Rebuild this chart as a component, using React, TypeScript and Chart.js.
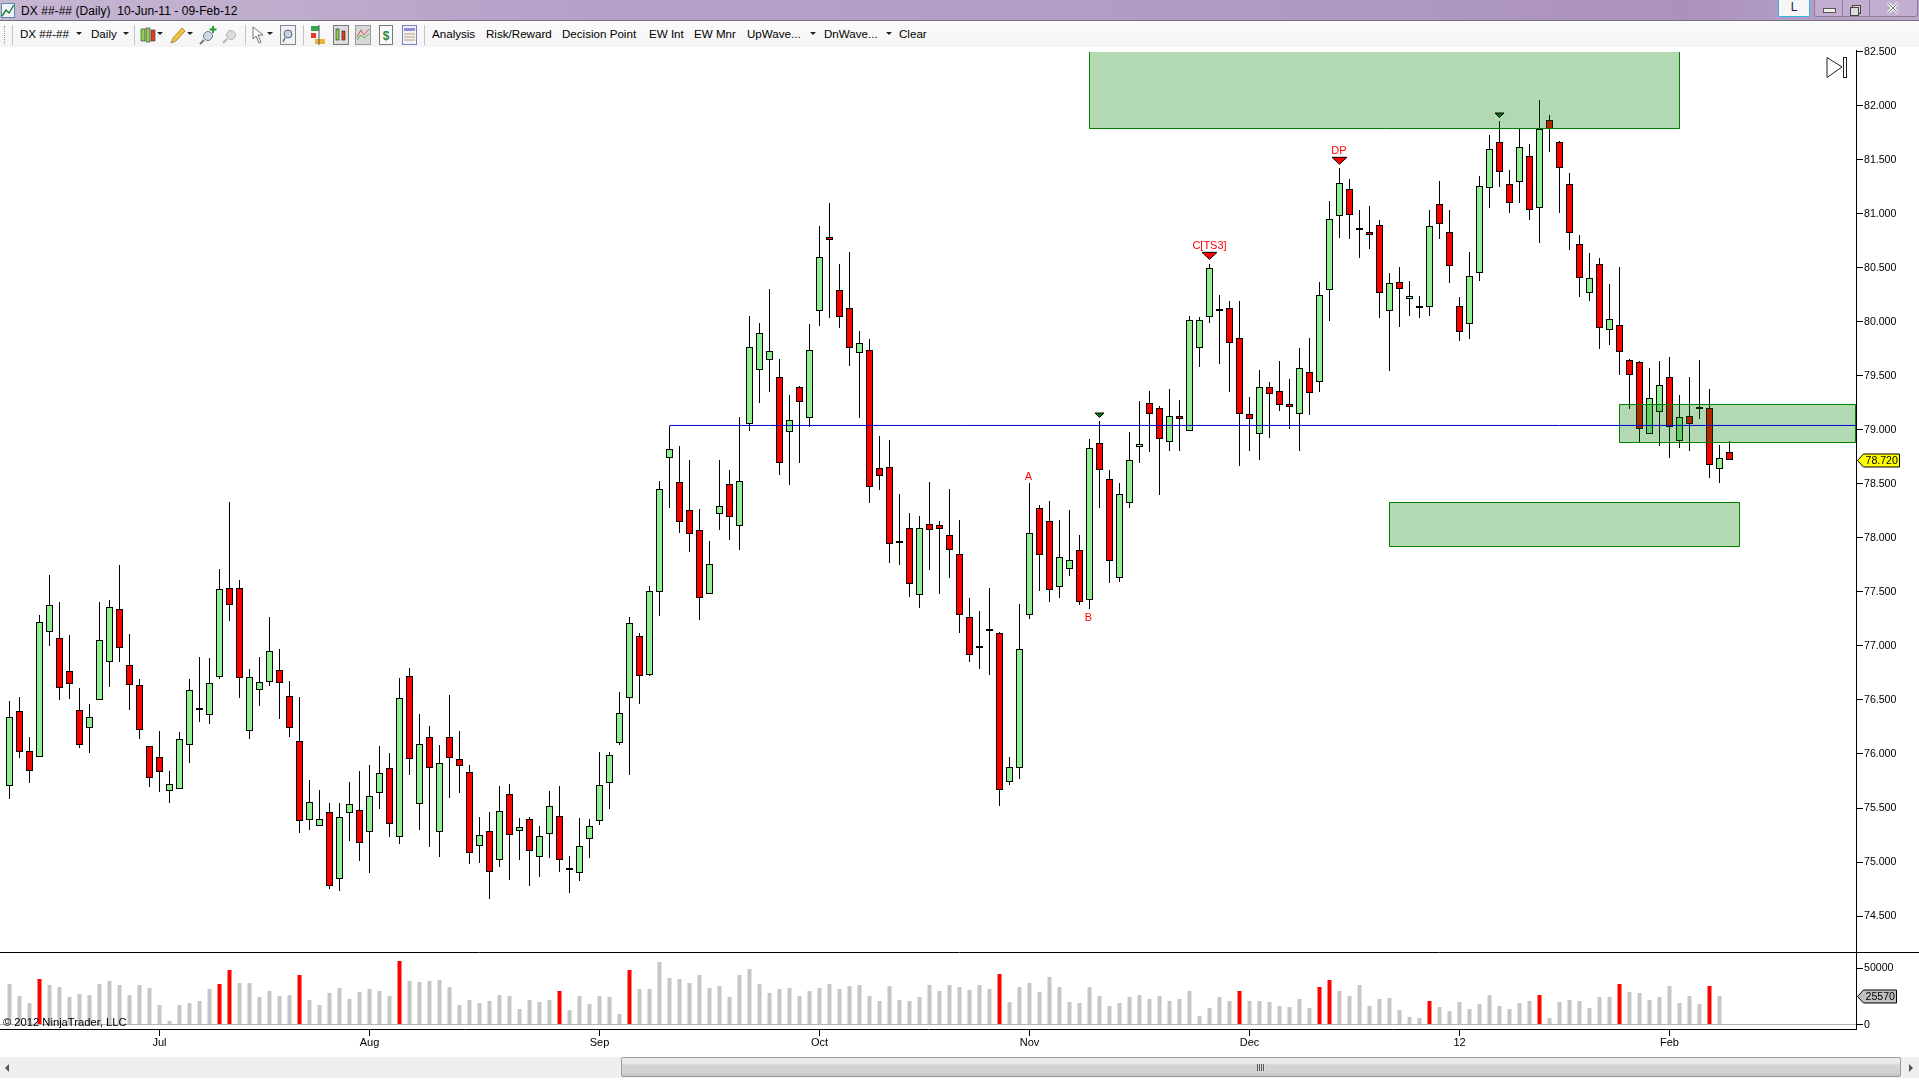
import React, { useEffect, useRef } from "react";
import { Chart, registerables } from "chart.js";

Chart.register(...registerables);

const opens = [
  75.7,76.4,76.03,75.97,77.13,77.07,76.77,76.41,76.24,76.5,
  76.85,77.34,76.82,76.64,76.07,75.97,75.66,75.68,76.08,76.41,
  76.36,76.71,77.54,77.54,76.21,76.59,76.67,76.78,76.54,76.12,
  75.39,75.33,75.46,74.84,75.45,75.48,75.28,75.64,75.87,75.23,
  76.72,75.54,76.16,75.28,76.16,75.95,75.83,75.15,75.29,75.02,
  75.63,75.29,75.4,75.05,75.26,75.43,74.93,74.9,75.21,75.38,
  75.73,76.1,76.52,77.09,76.73,77.5,78.74,78.52,78.26,78.07,
  77.48,78.22,78.5,78.11,79.06,79.56,79.65,79.49,78.98,79.4,
  79.11,80.1,80.79,80.3,80.13,79.71,79.74,78.65,78.66,77.97,
  78.09,77.47,78.13,78.12,78.03,77.85,77.27,77.0,77.14,77.12,
  75.74,75.87,77.29,78.28,78.16,77.55,77.71,77.89,77.43,78.88,
  78.55,77.63,78.32,78.84,79.25,79.2,78.89,79.13,78.99,79.76,
  80.05,80.12,80.13,79.85,79.15,78.96,79.4,79.36,79.24,79.15,
  79.54,79.44,80.3,80.98,81.23,80.85,80.83,80.9,80.1,80.37,
  80.21,80.15,80.14,81.09,80.83,80.15,79.98,80.45,81.24,81.67,
  81.28,81.3,81.54,81.06,81.87,81.67,81.28,80.72,80.27,80.54,
  79.93,79.97,79.65,79.63,78.96,79.17,79.49,78.9,79.13,79.19,
  79.2,78.64,78.8,
];
const highs = [
  76.49,76.53,76.16,77.29,77.66,77.41,77.1,76.61,76.46,77.41,
  77.43,77.75,77.11,76.69,76.07,76.21,75.84,76.2,76.69,76.9,
  76.89,77.71,78.33,77.61,76.79,76.9,77.27,76.97,76.68,76.53,
  75.76,75.67,75.55,75.55,75.74,75.84,75.9,76.07,76.01,76.7,
  76.8,76.37,76.26,76.08,76.55,76.21,75.9,75.42,75.46,75.7,
  75.72,75.41,75.42,75.33,75.66,75.7,75.06,75.41,75.4,76.02,
  76.02,76.57,77.27,77.12,77.56,78.53,79.04,78.85,78.72,78.27,
  77.97,78.72,78.63,79.12,80.06,79.99,80.31,79.66,79.32,79.41,
  79.98,80.89,81.1,80.54,80.65,79.92,79.84,78.94,78.91,78.41,
  78.23,78.2,78.52,78.16,78.45,78.17,77.44,77.32,77.54,77.13,
  75.97,77.39,78.51,78.31,78.34,78.17,78.26,78.03,78.92,79.08,
  78.63,78.51,78.98,79.27,79.36,79.22,79.38,79.28,80.06,80.05,
  80.54,80.25,80.19,80.19,79.31,79.56,79.44,79.64,79.47,79.76,
  79.85,80.37,81.12,81.43,81.32,81.04,81.07,80.94,80.45,80.51,
  80.38,80.24,81.04,81.31,81.04,80.23,80.65,81.35,81.73,81.86,
  81.41,81.79,81.65,82.06,81.92,81.68,81.38,80.81,80.64,80.59,
  80.35,80.51,79.66,79.64,79.57,79.64,79.68,79.32,79.49,79.65,
  79.38,78.86,78.9,
];
const lows = [
  75.58,75.96,75.73,75.97,77.0,76.5,76.51,76.06,76.01,76.5,
  76.62,76.85,76.41,76.14,75.69,75.65,75.55,75.68,75.92,76.3,
  76.28,76.69,77.23,76.52,76.14,76.44,76.63,76.32,76.16,75.27,
  75.3,75.33,74.75,74.73,75.19,75.01,74.9,75.49,75.23,75.17,
  75.81,75.3,75.14,75.05,75.59,75.64,74.98,74.99,74.66,74.95,
  74.83,75.02,74.78,74.86,75.04,74.91,74.71,74.82,75.04,75.34,
  75.49,76.08,75.81,76.46,76.72,77.28,78.28,78.05,77.87,77.24,
  77.48,78.07,77.98,77.89,78.99,79.25,79.35,78.58,78.49,78.69,
  79.03,79.96,80.04,79.94,79.59,79.11,78.32,78.44,77.77,77.75,
  77.45,77.35,77.7,77.48,77.63,77.12,76.85,76.79,76.73,75.52,
  75.71,75.77,77.25,77.51,77.41,77.44,77.65,77.38,77.34,78.28,
  77.58,77.59,78.28,78.69,78.8,78.4,78.81,78.81,78.99,79.58,
  79.99,79.61,79.35,78.67,78.81,78.72,78.93,79.18,79.01,78.81,
  79.14,79.35,80.01,80.78,80.77,80.59,80.68,80.04,79.55,79.95,
  80.06,80.04,80.06,80.77,80.36,79.82,79.84,80.38,81.06,81.25,
  81.01,81.1,80.94,80.73,81.57,81.01,80.67,80.23,80.19,79.75,
  79.79,79.51,79.19,78.89,78.96,78.85,78.74,78.83,78.81,79.1,
  78.56,78.51,78.72,
];
const closes = [
  76.34,76.02,75.84,77.22,77.38,76.61,76.65,76.08,76.34,77.06,
  77.36,76.98,76.64,76.22,75.78,75.83,75.72,76.14,76.59,76.41,
  76.66,77.53,77.38,76.7,76.71,76.67,76.95,76.66,76.24,75.38,
  75.56,75.4,74.78,75.42,75.54,75.18,75.61,75.82,75.35,76.52,
  75.95,76.09,75.87,75.92,75.96,75.89,75.08,75.25,74.91,75.47,
  75.25,75.32,75.1,75.24,75.52,75.02,74.93,75.15,75.33,75.71,
  75.99,76.38,77.21,76.72,77.51,78.45,78.82,78.15,78.04,77.44,
  77.76,78.3,78.19,78.53,79.77,79.9,79.73,78.69,79.09,79.26,
  79.74,80.6,80.76,80.05,79.76,79.81,78.47,78.57,77.94,77.95,
  77.57,78.09,78.07,78.08,77.89,77.29,76.92,76.98,77.14,75.67,
  75.88,76.97,78.05,77.84,77.52,77.82,77.8,77.41,78.83,78.63,
  77.79,78.41,78.72,78.87,79.15,78.92,79.13,79.1,80.02,80.02,
  80.5,80.1,79.81,79.15,79.1,79.4,79.33,79.23,79.21,79.57,
  79.34,80.25,80.95,81.29,80.99,80.85,80.81,80.27,80.36,80.31,
  80.24,80.13,80.89,80.91,80.52,79.91,80.43,81.26,81.6,81.39,
  81.1,81.62,81.04,81.79,81.79,81.43,80.82,80.41,80.41,79.94,
  80.03,79.72,79.51,79.01,79.3,79.42,79.03,79.12,79.06,79.19,
  78.68,78.74,78.72,
];
const volumes = [
  36300,25600,19300,40800,35400,33600,24700,27400,26500,36300,
  39000,35400,26500,35400,32700,17600,3300,17600,19300,21100,
  31800,36300,48800,37200,37200,24700,30100,25600,26500,44300,
  22000,17600,28300,32700,22900,29200,31800,30100,25600,56800,
  39000,38100,39000,39900,33600,17600,22000,19300,21100,26500,
  25600,14000,22000,20200,22000,30100,13100,25600,18500,25600,
  24700,9500,48800,31800,31800,55900,41700,40800,37200,44300,
  32700,34500,24700,44300,49700,36300,28300,31800,32700,25600,
  30100,32700,36300,31800,34500,35400,25600,21100,34500,22000,
  21100,24700,35400,30100,35400,33600,31000,35400,31800,45200,
  20200,33600,37200,29200,42600,33600,20200,19300,33600,25600,
  16700,19300,24700,26500,22900,25600,21100,22900,30100,7700,
  14900,24700,21100,30100,21100,21100,20200,16700,15800,22900,
  14900,33600,39900,30100,25600,35400,16700,22900,23800,13100,
  6800,6000,21100,15800,12200,20200,14000,18500,26500,16700,
  14000,19300,21100,26500,6000,20200,22000,21100,14900,24700,
  24700,36300,29200,28300,22000,24700,34500,19300,25600,18500,
  34500,25570,
];
const highVolumeBars = [3,21,22,29,39,55,62,99,123,131,132,142,153,161,170];

const priceTicks = [82.5,82,81.5,81,80.5,80,79.5,79,78.5,78,77.5,77,76.5,76,75.5,75,74.5];
const volumeTicks = [50000,0];
const monthTicks = [15,36,59,81,102,124,145,166];
const monthLabels = ["Jul","Aug","Sep","Oct","Nov","Dec","12","Feb"];

const levelStart = 66;
const levelPrice = 79.042;

const zoneStarts = [107.95,160.95,137.95];
const zoneEnds = [167.05,184.65,173];
const zoneHighs = [82.5,79.24,78.33];
const zoneLows = [81.79,78.88,77.92];
const zoneOpenTop = [true,false,false];

const annotationTexts = ["A","B","C[TS3]","DP"];
const annotationBars = [101.9,107.9,120,132.95];
const annotationPrices = [78.564,77.256,80.703,81.583];

const triangleBars = [120,133,109,149];
const trianglePrices = [80.645,81.525,79.157,81.935];
const triangleColors = ["#ff0000","#ff0000","#008000","#008000"];
const triangleWidths = [15,15,9,9];
const triangleHeights = [7,7,4.5,4.5];

const FONT = "'Liberation Sans', Arial, sans-serif";

const snapBars = {
  id: "snapBars",
  beforeDatasetsDraw(chart: any) {
    chart.getSortedVisibleDatasetMetas().forEach((meta: any) => {
      if (meta.type !== "bar") return;
      meta.data.forEach((el: any) => {
        el.y = Math.round(el.y);
        el.base = Math.round(el.base);
      });
    });
  },
};

const zonesPlugin = {
  id: "zones",
  beforeDatasetDraw(chart: any, args: any) {
    if (chart.data.datasets[args.index].label !== "level") return;
    const { x, y } = chart.scales;
    const ctx = chart.ctx;
    ctx.save();
    zoneStarts.forEach((start, i) => {
      const l = Math.round(x.getPixelForValue(start));
      const r = Math.round(x.getPixelForValue(zoneEnds[i]));
      const t = Math.round(y.getPixelForValue(zoneHighs[i]));
      const b = Math.round(y.getPixelForValue(zoneLows[i]));
      ctx.fillStyle = "rgba(0,128,0,0.3)";
      ctx.fillRect(l, t, r - l, b - t);
      ctx.strokeStyle = "#008000";
      ctx.lineWidth = 1;
      ctx.beginPath();
      if (zoneOpenTop[i]) {
        ctx.moveTo(l + 0.5, t);
        ctx.lineTo(l + 0.5, b - 0.5);
        ctx.lineTo(r - 0.5, b - 0.5);
        ctx.lineTo(r - 0.5, t);
      } else {
        ctx.rect(l + 0.5, t + 0.5, r - l - 1, b - t - 1);
      }
      ctx.stroke();
    });
    ctx.restore();
  },
};

const annotationsPlugin = {
  id: "annotations",
  afterDatasetsDraw(chart: any) {
    const { x, y, yVol } = chart.scales;
    const ctx = chart.ctx;
    ctx.save();
    ctx.font = `11px ${FONT}`;
    ctx.textAlign = "center";
    ctx.textBaseline = "middle";
    ctx.fillStyle = "#ff0000";
    annotationTexts.forEach((t, i) => {
      ctx.fillText(t, x.getPixelForValue(annotationBars[i]), y.getPixelForValue(annotationPrices[i]));
    });
    triangleBars.forEach((bar, i) => {
      const cx = x.getPixelForValue(bar);
      const top = y.getPixelForValue(trianglePrices[i]);
      const hw = triangleWidths[i] / 2;
      ctx.beginPath();
      ctx.moveTo(cx - hw, top);
      ctx.lineTo(cx + hw, top);
      ctx.lineTo(cx, top + triangleHeights[i]);
      ctx.closePath();
      ctx.fillStyle = triangleColors[i];
      ctx.fill();
      ctx.strokeStyle = "#000";
      ctx.lineWidth = 1;
      ctx.stroke();
    });

    // separator between the price and volume panels
    ctx.strokeStyle = "#000";
    ctx.lineWidth = 1;
    ctx.beginPath();
    ctx.moveTo(0, Math.round(y.bottom) + 0.5);
    ctx.lineTo(chart.width, Math.round(y.bottom) + 0.5);
    ctx.stroke();

    // copyright
    ctx.fillStyle = "#000";
    ctx.textAlign = "left";
    ctx.font = `11.2px ${FONT}`;
    ctx.fillText("\u00a9 2012 NinjaTrader, LLC", 3, yVol.bottom - 6);

    // last value flags
    const flag = (cy: number, text: string, fill: string, right: number) => {
      const l = chart.chartArea.right + 1.5;
      const yy = Math.round(cy) + 0.5;
      ctx.beginPath();
      ctx.moveTo(l, yy);
      ctx.lineTo(l + 6, yy - 6.5);
      ctx.lineTo(right, yy - 6.5);
      ctx.lineTo(right, yy + 6.5);
      ctx.lineTo(l + 6, yy + 6.5);
      ctx.closePath();
      ctx.fillStyle = fill;
      ctx.fill();
      ctx.strokeStyle = "#000";
      ctx.stroke();
      ctx.fillStyle = "#000";
      ctx.font = `10.6px ${FONT}`;
      ctx.textAlign = "left";
      ctx.fillText(text, l + 8, yy + 0.5);
    };
    const lastClose = closes[closes.length - 1];
    const lastVolume = volumes[volumes.length - 1];
    flag(y.getPixelForValue(lastClose), lastClose.toFixed(3), "#ffff00", 1899.5);
    flag(yVol.getPixelForValue(lastVolume), String(lastVolume), "#c0c0c0", 1896.5);
    ctx.restore();
  },
};

function CandleChart() {
  const ref = useRef<HTMLCanvasElement | null>(null);
  useEffect(() => {
    const bodyColors = closes.map((c, i) => (c > opens[i] ? "#90ee90" : c < opens[i] ? "#ff0000" : "#000000"));
    const volumeColors = volumes.map((_, i) => (highVolumeBars.includes(i) ? "#ff0000" : "#c6c6c6"));
    const chart = new Chart(ref.current as HTMLCanvasElement, {
      type: "bar",
      data: {
        datasets: [
          {
            label: "wicks",
            data: highs.map((h, i) => ({ x: i, y: [lows[i], h] })),
            backgroundColor: "#000",
            barThickness: 1,
            grouped: false,
            inflateAmount: 0,
            xAxisID: "x",
            yAxisID: "y",
            order: 4,
          },
          {
            label: "bodies",
            data: opens.map((o, i) => ({ x: i, y: [o, closes[i]] })),
            backgroundColor: bodyColors,
            borderColor: "#000",
            borderWidth: 1,
            borderSkipped: false,
            barThickness: 7,
            minBarLength: 2,
            grouped: false,
            inflateAmount: 0,
            xAxisID: "x",
            yAxisID: "y",
            order: 3,
          },
          {
            label: "volume",
            data: volumes.map((v, i) => ({ x: i, y: v })),
            backgroundColor: volumeColors,
            barThickness: 4,
            grouped: false,
            inflateAmount: 0,
            xAxisID: "x",
            yAxisID: "yVol",
            order: 2,
          },
          {
            type: "line",
            label: "level",
            data: [
              { x: levelStart, y: levelPrice },
              { x: 184.65, y: levelPrice },
            ],
            borderColor: "#0000d0",
            borderWidth: 1,
            pointRadius: 0,
            xAxisID: "x",
            yAxisID: "y",
            order: 1,
          },
        ] as any,
      },
      options: {
        responsive: false,
        animation: false,
        devicePixelRatio: 1,
        layout: { padding: { top: 50, left: 0, right: 0, bottom: 0 } },
        plugins: { legend: { display: false }, tooltip: { enabled: false } },
        events: [],
        scales: {
          x: {
            type: "linear",
            position: "bottom",
            offset: false,
            min: -0.95,
            max: 184.65,
            afterBuildTicks: (s: any) => {
              s.ticks = monthTicks.map((value) => ({ value }));
            },
            afterFit: (s: any) => {
              s.height = 51;
            },
            ticks: {
              autoSkip: false,
              maxRotation: 0,
              padding: 0,
              color: "#000",
              font: { size: 11, family: FONT },
              callback: (v: any) => monthLabels[monthTicks.indexOf(v)] ?? "",
            },
            grid: { offset: false, drawOnChartArea: false, tickLength: 7, tickColor: "#000" },
            border: { display: true, color: "#000" },
          },
          y: {
            type: "linear",
            position: "right",
            stack: "panels",
            stackWeight: 901.5,
            weight: 1,
            min: 74.1713,
            max: 82.5185,
            afterBuildTicks: (s: any) => {
              s.ticks = priceTicks.map((value) => ({ value }));
            },
            afterFit: (s: any) => {
              s.width = 63;
            },
            ticks: {
              autoSkip: false,
              padding: 1,
              color: "#000",
              font: { size: 10.6, family: FONT },
              callback: (v: any) => Number(v).toFixed(3),
            },
            grid: { drawOnChartArea: false, tickLength: 7, tickColor: "#000" },
            border: { display: true, color: "#000" },
          },
          yVol: {
            type: "linear",
            position: "right",
            stack: "panels",
            stackWeight: 77.5,
            weight: 2,
            min: -3571,
            max: 64732,
            afterBuildTicks: (s: any) => {
              s.ticks = volumeTicks.map((value) => ({ value }));
            },
            afterFit: (s: any) => {
              s.width = 63;
            },
            ticks: {
              autoSkip: false,
              padding: 1,
              color: "#000",
              font: { size: 10.6, family: FONT },
              callback: (v: any) => String(v),
            },
            grid: {
              tickLength: 7,
              tickColor: "#000",
              color: (c: any) => (c.tick && c.tick.value === 0 ? "#b4b4b4" : "rgba(0,0,0,0)"),
            },
            border: { display: true, color: "#000" },
          },
        },
      } as any,
      plugins: [snapBars, zonesPlugin, annotationsPlugin],
    });
    return () => chart.destroy();
  }, []);
  return (
    <canvas
      ref={ref}
      width={1919}
      height={1080}
      style={{ position: "absolute", left: 0, top: 0, width: 1919, height: 1080, display: "block" }}
    />
  );
}

const labelStyle = (left: number, top = 26): React.CSSProperties => ({
  position: "absolute",
  left,
  top,
  fontFamily: FONT,
  fontSize: 11.6,
  lineHeight: "16px",
  color: "#000",
  whiteSpace: "nowrap",
});

function Arrow({ x, y = 32 }: { x: number; y?: number }) {
  return (
    <div
      style={{
        position: "absolute",
        left: x - 3,
        top: y,
        width: 0,
        height: 0,
        borderLeft: "3px solid transparent",
        borderRight: "3px solid transparent",
        borderTop: "3px solid #222",
      }}
    />
  );
}

function Sep({ x }: { x: number }) {
  return <div style={{ position: "absolute", left: x, top: 25, width: 1, height: 20, background: "#c4c4c4" }} />;
}

function Icon({ x, children, w = 18 }: { x: number; children: React.ReactNode; w?: number }) {
  return (
    <svg style={{ position: "absolute", left: x, top: 25 }} width={w} height={20} viewBox={`0 0 ${w} 20`}>
      {children}
    </svg>
  );
}

function Chrome() {
  return (
    <>
      {/* title bar */}
      <div
        style={{
          position: "absolute",
          left: 0,
          top: 0,
          width: 1919,
          height: 20,
          background: "linear-gradient(90deg,#c6b6d2 0,#bfadce 14%,#b6a1c8 28%,#b29cc5 60%,#aa92bd 88%,#bca7cd 100%)",
          borderBottom: "1px solid #77707f",
        }}
      />
      <svg style={{ position: "absolute", left: 1, top: 3 }} width={14} height={15} viewBox="0 0 14 15">
        <rect x={0.5} y={0.5} width={13} height={14} fill="#eef3fa" stroke="#5a8ab0" />
        <polyline points="1,13 5,7 8,10 13,2" fill="none" stroke="#1c7a2c" strokeWidth={1.4} />
      </svg>
      <div style={{ ...labelStyle(21, 3), fontSize: 12, letterSpacing: 0.05 }}>
        DX ##-## (Daily)&nbsp;&nbsp;10-Jun-11 - 09-Feb-12
      </div>
      <div
        style={{
          position: "absolute",
          left: 1778,
          top: 0,
          width: 30,
          height: 16,
          background: "#f6f6f6",
          border: "1px solid #33b5e8",
          borderTop: "none",
          borderRadius: "0 0 2px 2px",
          textAlign: "center",
          fontFamily: FONT,
          fontSize: 12,
          lineHeight: "15px",
          color: "#223",
        }}
      >
        L
      </div>
      <div
        style={{
          position: "absolute",
          left: 1814,
          top: 0,
          width: 102,
          height: 16,
          border: "1px solid #8d8096",
          borderTop: "none",
          borderRadius: "0 0 3px 3px",
          background: "#c3aed1",
        }}
      />
      <div style={{ position: "absolute", left: 1842, top: 0, width: 1, height: 16, background: "#8d8096" }} />
      <div style={{ position: "absolute", left: 1869, top: 0, width: 1, height: 16, background: "#8d8096" }} />
      <div style={{ position: "absolute", left: 1823, top: 8, width: 11, height: 3, background: "#eee", border: "1px solid #555" }} />
      <div style={{ position: "absolute", left: 1852, top: 5, width: 7, height: 7, background: "#ddd", border: "1px solid #444" }} />
      <div style={{ position: "absolute", left: 1850, top: 7, width: 7, height: 7, background: "#ddd", border: "1px solid #444" }} />
      <svg style={{ position: "absolute", left: 1886, top: 2 }} width={14} height={12} viewBox="0 0 14 12">
        <path d="M2 1 L12 11 M12 1 L2 11" stroke="#f4f4f4" strokeWidth={3} />
        <path d="M2 1 L12 11 M12 1 L2 11" stroke="#555" strokeWidth={0.8} />
      </svg>

      {/* toolbar */}
      <div
        style={{
          position: "absolute",
          left: 0,
          top: 21,
          width: 1919,
          height: 26,
          background: "linear-gradient(180deg,#fbfbfb 0,#f4f4f4 100%)",
        }}
      />
      <div style={{ position: "absolute", left: 4, top: 26, width: 1, height: 18, borderLeft: "1px dotted #999" }} />
      <Sep x={12} />
      <div style={labelStyle(20)}>DX ##-##</div>
      <Arrow x={79} />
      <div style={labelStyle(91)}>Daily</div>
      <Arrow x={125.5} />
      <Sep x={134} />
      <Icon x={140} w={16}>
        <rect x={1} y={4} width={4} height={12} fill="#8fd14f" stroke="#333" strokeWidth={0.6} />
        <rect x={6} y={3} width={4} height={14} fill="#8fd14f" stroke="#333" strokeWidth={0.6} />
        <rect x={11} y={5} width={4} height={11} fill="#e23b2a" stroke="#333" strokeWidth={0.6} />
      </Icon>
      <Arrow x={160} />
      <Icon x={169} w={17}>
        <path d="M2 18 L4 13 L13 3 L16 6 L7 16 Z" fill="#f3c33f" stroke="#8a6d1c" strokeWidth={0.7} />
      </Icon>
      <Arrow x={190} />
      <Icon x={199}>
        <circle cx={9} cy={11} r={4.5} fill="#cfd8e2" stroke="#6d7a88" />
        <path d="M5 15 L1 19" stroke="#6d7a88" strokeWidth={2} />
        <path d="M14 1 V8 M10.5 4.5 H17.5" stroke="#1f9e2e" strokeWidth={2} />
      </Icon>
      <Icon x={222}>
        <circle cx={9} cy={10} r={4.5} fill="#dcdcdc" stroke="#b5b5b5" />
        <path d="M5 14 L1 18" stroke="#b5b5b5" strokeWidth={2} />
      </Icon>
      <Sep x={245} />
      <Icon x={251} w={14}>
        <path d="M2 2 L2 14 L5 11 L8 18 L10 17 L7 10 L12 10 Z" fill="#fff" stroke="#555" strokeWidth={0.8} />
      </Icon>
      <Arrow x={270} />
      <Icon x={280} w={16}>
        <rect x={0.5} y={0.5} width={15} height={19} fill="#eef1f5" stroke="#888" />
        <circle cx={8} cy={9} r={4} fill="#bcd3e8" stroke="#667" />
        <path d="M5 13 L3 17" stroke="#667" strokeWidth={1.6} />
      </Icon>
      <Sep x={303} />
      <Icon x={309}>
        <rect x={2} y={1} width={8} height={5} fill="#37a64a" />
        <rect x={2} y={8} width={5} height={5} fill="#e53b2c" />
        <rect x={6} y={14} width={10} height={5} fill="#e8b739" />
        <path d="M10 0 V20" stroke="#555" />
      </Icon>
      <Icon x={333} w={16}>
        <rect x={0.5} y={0.5} width={15} height={19} fill="#ddd" stroke="#777" />
        <rect x={3} y={4} width={3} height={11} fill="#8fd14f" stroke="#222" strokeWidth={0.6} />
        <rect x={9} y={6} width={3} height={9} fill="#e23b2a" stroke="#222" strokeWidth={0.6} />
      </Icon>
      <Icon x={355} w={16}>
        <rect x={0.5} y={0.5} width={15} height={19} fill="#d8d8d8" stroke="#999" />
        <polyline points="2,12 6,5 9,10 14,4" fill="none" stroke="#d9534f" />
        <polyline points="2,15 6,10 9,13 14,9" fill="none" stroke="#4caf50" />
      </Icon>
      <Icon x={379} w={14}>
        <rect x={0.5} y={0.5} width={13} height={19} fill="#fafafa" stroke="#777" />
        <text x={7} y={15} textAnchor="middle" fontFamily={FONT} fontWeight="bold" fontSize={12} fill="#2a8a3a">
          $
        </text>
      </Icon>
      <Icon x={402} w={15}>
        <rect x={0.5} y={0.5} width={14} height={19} fill="#eef2fa" stroke="#7d7fc0" />
        <rect x={2} y={3} width={11} height={3} fill="#8f8fd8" />
        <path d="M2 9 H13 M2 12 H13 M2 15 H13" stroke="#c0a060" />
      </Icon>
      <Sep x={424} />
      <div style={labelStyle(432)}>Analysis</div>
      <div style={labelStyle(486)}>Risk/Reward</div>
      <div style={labelStyle(562)}>Decision Point</div>
      <div style={labelStyle(649)}>EW Int</div>
      <div style={labelStyle(694)}>EW Mnr</div>
      <div style={labelStyle(747)}>UpWave...</div>
      <Arrow x={813} />
      <div style={labelStyle(824)}>DnWave...</div>
      <Arrow x={888.5} />
      <div style={labelStyle(899)}>Clear</div>

      {/* go-to-end icon */}
      <svg style={{ position: "absolute", left: 1826, top: 57 }} width={22} height={21} viewBox="0 0 22 21">
        <path d="M1 0.5 L16 10 L1 20.5 Z" fill="#fff" stroke="#222" strokeWidth={1} />
        <rect x={17.5} y={0.5} width={3} height={20} fill="#fff" stroke="#222" strokeWidth={1} />
      </svg>

      {/* scrollbar */}
      <div style={{ position: "absolute", left: 0, top: 1057, width: 1919, height: 21, background: "#efefef" }} />
      <div
        style={{
          position: "absolute",
          left: 621,
          top: 1057,
          width: 1280,
          height: 20,
          background: "linear-gradient(180deg,#ececec 0,#e8e8e8 30%,#d4d4d6 40%,#d0d0d2 80%,#c4c4c4 100%)",
          border: "1px solid #9c9c9c",
          borderRadius: 2,
          boxSizing: "border-box",
        }}
      />
      <div
        style={{
          position: "absolute",
          left: 1257,
          top: 1064,
          width: 8,
          height: 7,
          background: "repeating-linear-gradient(90deg,#555 0,#555 1px,#ddd 1px,#ddd 2px)",
        }}
      />
      <div
        style={{
          position: "absolute",
          left: 5,
          top: 1064,
          width: 0,
          height: 0,
          borderTop: "4px solid transparent",
          borderBottom: "4px solid transparent",
          borderRight: "4px solid #555",
        }}
      />
      <div
        style={{
          position: "absolute",
          left: 1909,
          top: 1064,
          width: 0,
          height: 0,
          borderTop: "4px solid transparent",
          borderBottom: "4px solid transparent",
          borderLeft: "4px solid #555",
        }}
      />
    </>
  );
}

export default function App() {
  useEffect(() => {
    document.body.style.margin = "0";
    document.body.style.background = "#fff";
  }, []);
  return (
    <div style={{ position: "relative", width: 1919, height: 1080, overflow: "hidden", background: "#fff" }}>
      <CandleChart />
      <Chrome />
    </div>
  );
}
